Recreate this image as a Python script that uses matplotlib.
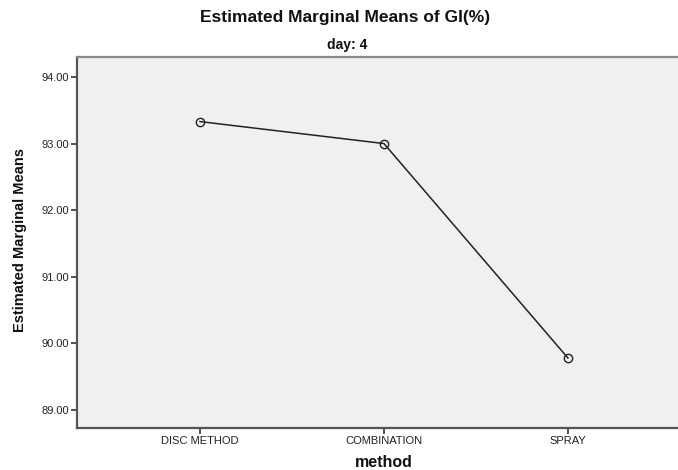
import matplotlib
matplotlib.use('Agg')
import matplotlib.pyplot as plt

# Estimated marginal means, day 4
methods = ['DISC METHOD', 'COMBINATION', 'SPRAY']
means = [93.33, 93.00, 89.78]
y_ticks = [89.0, 90.0, 91.0, 92.0, 93.0, 94.0]

plt.rcParams['font.family'] = ['Liberation Sans', 'DejaVu Sans']

fig = plt.figure(figsize=(6.78, 4.70), dpi=100)
fig.patch.set_facecolor('white')
ax = fig.add_axes([0.1136, 0.0894, 0.8864, 0.7894])
ax.set_facecolor('#F0F0F0')

x = list(range(len(methods)))
ax.plot(x, means, color='#222222', linewidth=1.1, marker='o', markersize=6,
        markerfacecolor='none', markeredgecolor='#222222', markeredgewidth=1.0)

ax.set_xlim(-0.668, 2.598)
ax.set_ylim(88.73, 94.30)
ax.set_xticks(x)
ax.set_xticklabels(methods, fontsize=8, color='#222222')
ax.set_yticks(y_ticks)
ax.set_yticklabels([f'{v:.2f}' for v in y_ticks], fontsize=8, color='#222222')
ax.tick_params(axis='both', direction='out', length=4, width=1.2, color='#333333', pad=2)

for side in ['left', 'bottom']:
    ax.spines[side].set_color('#555555')
    ax.spines[side].set_linewidth(1.6)
ax.spines['top'].set_color('#888888')
ax.spines['top'].set_linewidth(1.6)
ax.spines['right'].set_visible(False)

fig.text(0.030, 0.489, 'Estimated Marginal Means', rotation=90, ha='center', va='center',
         fontsize=10.5, fontweight='bold', color='#111111')
fig.text(0.566, 0.006, 'method', ha='center', va='baseline',
         fontsize=11.5, fontweight='bold', color='#111111')

fig.text(0.509, 0.962, 'Estimated Marginal Means of GI(%)', ha='center', va='center',
         fontsize=12.5, fontweight='bold', color='#111111')
fig.text(0.512, 0.904, 'day: 4', ha='center', va='center',
         fontsize=10, fontweight='bold', color='#111111')

fig.savefig('out.png', dpi=100, facecolor='white')
